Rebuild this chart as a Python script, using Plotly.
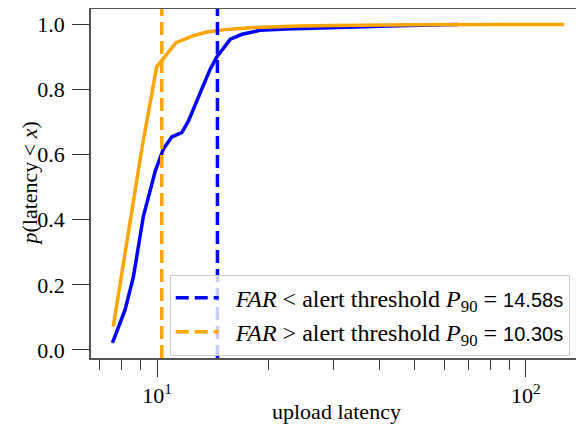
import plotly.graph_objects as go

# CDF of upload latency for events below the FAR alert threshold
low_far_latency = [7.57, 8.19, 8.63, 9.18, 9.88, 10.4, 10.96, 11.67, 12.16, 12.82,
                   13.92, 14.52, 15.8, 17.0, 19.0, 22.4, 28.0, 34.0, 45.0, 65.5]
low_far_cdf = [0.022, 0.123, 0.225, 0.41, 0.548, 0.617, 0.655, 0.668, 0.703, 0.765,
               0.862, 0.9, 0.955, 0.97, 0.982, 0.986, 0.99, 0.993, 0.996, 1.0]

# CDF of upload latency for events above the FAR alert threshold
high_far_latency = [7.61, 8.3, 9.1, 9.98, 11.26, 12.5, 13.64, 15.5, 17.86, 24.4,
                    30.0, 50.0, 80.0, 127.0]
high_far_cdf = [0.072, 0.33, 0.62, 0.87, 0.944, 0.965, 0.977, 0.985, 0.99, 0.995,
                0.997, 0.999, 1.0, 1.0]

# 90th percentiles
p90_low = 14.58
p90_high = 10.30

x_major_ticks = [10, 100]
x_major_labels = ["10<sup>1</sup>", "10<sup>2</sup>"]
x_minor_ticks = [7, 8, 9, 20, 30, 40, 50, 60, 70, 80, 90]
y_ticks = [0.0, 0.2, 0.4, 0.6, 0.8, 1.0]

blue = "#0000ff"
orange = "#ffa500"
serif = "Liberation Serif"
sans = "Liberation Sans"


def legend_label(sign, p90):
    return (f"&nbsp;&nbsp;<i>FAR</i> {sign} alert threshold <i>P</i><sub>90</sub> = "
            f"<span style=\"font-family:'{sans}';font-size:20px\">{p90:.2f}s</span>")


fig = go.Figure()
fig.add_trace(go.Scatter(x=low_far_latency, y=low_far_cdf, mode="lines",
                         line=dict(color=blue, width=3.5), showlegend=False))
fig.add_trace(go.Scatter(x=high_far_latency, y=high_far_cdf, mode="lines",
                         line=dict(color=orange, width=3.5), showlegend=False))

for p90, color, sign, rank in [(p90_low, blue, "&lt;", 1), (p90_high, orange, "&gt;", 2)]:
    fig.add_shape(type="line", xref="x", yref="paper", x0=p90, x1=p90, y0=0, y1=1,
                  line=dict(color=color, width=3.5, dash="13px,6px"),
                  showlegend=True, name=legend_label(sign, p90), legendrank=rank)

# axis titles as annotations so they sit where the reference has them
fig.add_annotation(text="upload latency", xref="paper", yref="paper", x=0.5, y=0,
                   yanchor="middle", yshift=-53, showarrow=False)
fig.add_annotation(text="<i>p</i>(latency &lt; <i>x</i>)", xref="paper", yref="paper",
                   x=0, y=0.5, xanchor="center", xshift=-62, textangle=-90,
                   showarrow=False)

# the page has an 8px body margin, so the figure is 8px smaller each way
fig.update_layout(
    width=576, height=416,
    margin=dict(l=83, r=2, t=1, b=66),
    paper_bgcolor="white", plot_bgcolor="white",
    font=dict(family=serif, size=22, color="black"),
    legend=dict(x=0.975, xanchor="right", y=0.007, yanchor="bottom",
                bgcolor="rgba(255,255,255,0.8)", bordercolor="#cccccc", borderwidth=1,
                font=dict(size=24), itemwidth=43),
)
fig.update_xaxes(type="log", range=[0.821, 2.152], automargin=False,
                 tickvals=x_major_ticks, ticktext=x_major_labels,
                 ticks="outside", ticklen=17, tickwidth=1.3, tickcolor="#333",
                 showline=True, linecolor="#555", linewidth=1.5, mirror=True,
                 showgrid=False, zeroline=False,
                 minor=dict(tickvals=x_minor_ticks, ticks="outside", ticklen=10,
                            tickwidth=1, tickcolor="#333", showgrid=False))
fig.update_yaxes(range=[-0.0246, 1.0476], automargin=False,
                 tickvals=y_ticks, tickformat=".1f", ticklabelstandoff=3,
                 ticks="outside", ticklen=17, tickwidth=1.3, tickcolor="#333",
                 showline=True, linecolor="#555", linewidth=1.5, mirror=True,
                 showgrid=False, zeroline=False)

fig.write_html("out.html")
